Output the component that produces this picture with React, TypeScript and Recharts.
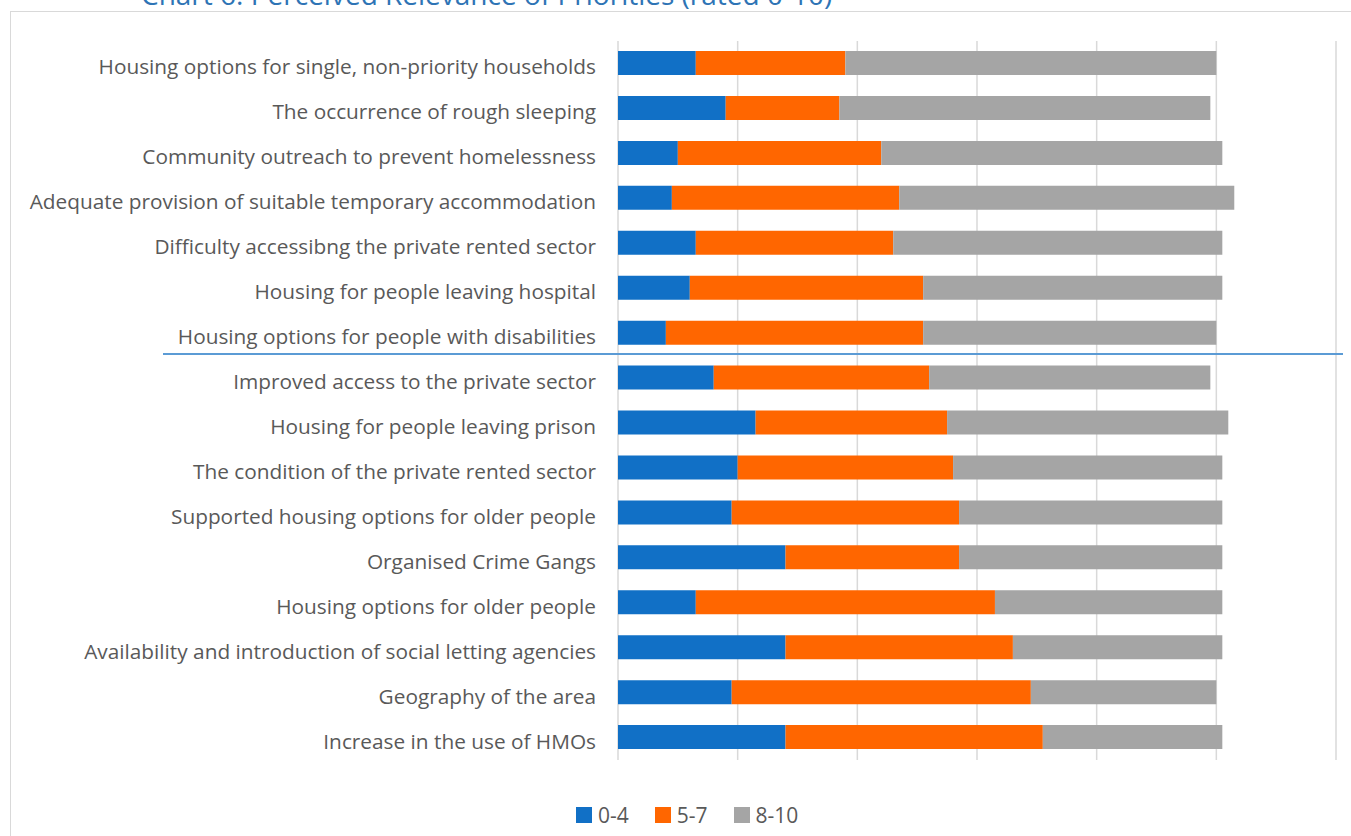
import React from "react";
import { BarChart, Bar, XAxis, YAxis, CartesianGrid } from "recharts";

const categories = [
  "Housing options for single, non-priority households",
  "The occurrence of rough sleeping",
  "Community outreach to prevent homelessness",
  "Adequate provision of suitable temporary accommodation",
  "Difficulty accessibng the private rented sector",
  "Housing for people leaving hospital",
  "Housing options for people with disabilities",
  "Improved access to the private sector",
  "Housing for people leaving prison",
  "The condition of the private rented sector",
  "Supported housing options for older people",
  "Organised Crime Gangs",
  "Housing options for older people",
  "Availability and introduction of social letting agencies",
  "Geography of the area",
  "Increase in the use of HMOs",
];

const low = [13, 18, 10, 9, 13, 12, 8, 16, 23, 20, 19, 28, 13, 28, 19, 28];
const mid = [25, 19, 34, 38, 33, 39, 43, 36, 32, 36, 38, 29, 50, 38, 50, 43];
const high = [62, 62, 57, 56, 55, 50, 49, 47, 47, 45, 44, 44, 38, 35, 31, 30];

const seriesNames = ["0-4", "5-7", "8-10"];
const xTicks = [0, 20, 40, 60, 80, 100, 120];

const COLORS = {
  low: "#1170C6",
  mid: "#FF6600",
  high: "#A5A5A5",
  text: "#595959",
  grid: "#D9D9D9",
  title: "#2E74B5",
  rule: "#5B9BD5",
};
const seriesColors = [COLORS.low, COLORS.mid, COLORS.high];

const FONT = "'Open Sans', sans-serif";

const data = categories.map((name, i) => ({
  name,
  low: low[i],
  mid: mid[i],
  high: high[i],
}));

// label baseline sits level with the bottom of its bar in the original
function CategoryTick({ x, y, payload }: any) {
  return (
    <text
      x={x}
      y={y + 11}
      textAnchor="end"
      fontFamily={FONT}
      fontSize={20.8}
      fill={COLORS.text}
    >
      {payload.value}
    </text>
  );
}

function ChartLegend() {
  return (
    <div
      style={{
        position: "absolute",
        left: 576,
        top: 801,
        display: "flex",
        alignItems: "center",
        fontFamily: FONT,
      }}
    >
      {seriesNames.map((s, i) => (
        <div
          key={s}
          style={{ display: "flex", alignItems: "center", marginRight: 26 }}
        >
          <span
            style={{
              width: 16,
              height: 16,
              background: seriesColors[i],
              display: "inline-block",
              marginRight: 6,
            }}
          />
          <span style={{ fontSize: 21, color: COLORS.text }}>{s}</span>
        </div>
      ))}
    </div>
  );
}

export default function App() {
  return (
    <div
      style={{
        position: "absolute",
        left: 0,
        top: 0,
        width: 1351,
        height: 836,
        overflow: "hidden",
        background: "#fff",
      }}
    >
      <div
        style={{
          position: "absolute",
          left: 10,
          top: 10.5,
          width: 1400,
          height: 900,
          border: `1.5px solid ${COLORS.grid}`,
        }}
      />
      <svg
        width={1351}
        height={20}
        style={{ position: "absolute", left: 0, top: 0 }}
      >
        <text
          x={141}
          y={5}
          fontFamily={FONT}
          fontSize={28}
          fill={COLORS.title}
        >
          Chart 6: Perceived Relevance of Priorities (rated 0-10)
        </text>
      </svg>
      <div style={{ position: "absolute", left: 0, top: 0 }}>
        <BarChart
          width={1351}
          height={836}
          data={data}
          layout="vertical"
          margin={{ top: 41, right: 15, bottom: 76, left: 0 }}
        >
          <CartesianGrid
            horizontal={false}
            stroke={COLORS.grid}
            strokeWidth={1.5}
          />
          <XAxis
            type="number"
            domain={[0, 120]}
            ticks={xTicks}
            tick={() => <g />}
            axisLine={false}
            tickLine={false}
            height={0}
          />
          <YAxis
            type="category"
            dataKey="name"
            width={618}
            axisLine={false}
            tickLine={false}
            tickSize={0}
            tickMargin={22}
            interval={0}
            tick={<CategoryTick />}
          />
          <Bar
            dataKey="low"
            name={seriesNames[0]}
            stackId="a"
            fill={COLORS.low}
            barSize={24}
            isAnimationActive={false}
          />
          <Bar
            dataKey="mid"
            name={seriesNames[1]}
            stackId="a"
            fill={COLORS.mid}
            barSize={24}
            isAnimationActive={false}
          />
          <Bar
            dataKey="high"
            name={seriesNames[2]}
            stackId="a"
            fill={COLORS.high}
            barSize={24}
            isAnimationActive={false}
          />
        </BarChart>
      </div>
      <div
        style={{
          position: "absolute",
          left: 163,
          top: 352.5,
          width: 1180,
          height: 2,
          background: COLORS.rule,
        }}
      />
      <ChartLegend />
    </div>
  );
}
